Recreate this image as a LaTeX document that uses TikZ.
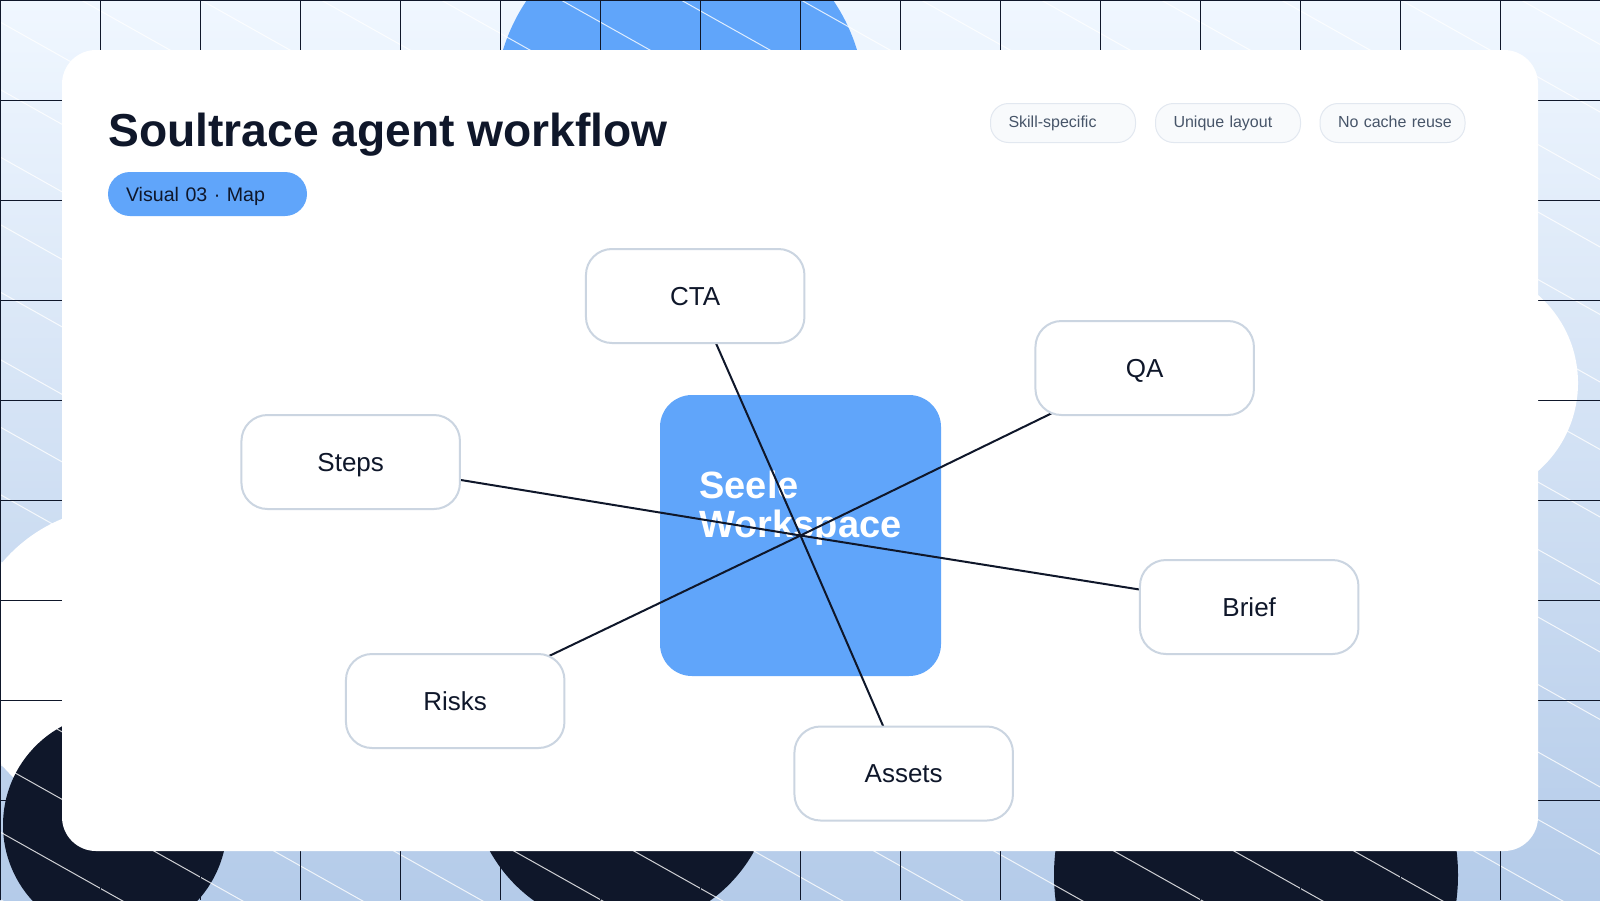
\documentclass[tikz,border=0pt]{standalone}
\usepackage{fontspec}
\setmainfont{Liberation Sans}
\usetikzlibrary{backgrounds}
\definecolor{ink}{HTML}{0F172A}
\definecolor{azure}{HTML}{60A5FA}
\definecolor{bgtop}{HTML}{F0F7FF}
\definecolor{bgbot}{HTML}{B4CBE9}
\definecolor{edgegrey}{HTML}{CBD5E1}
\definecolor{pillfill}{HTML}{F8FAFC}
\definecolor{pilledge}{HTML}{E2E8F0}
\definecolor{pilltext}{HTML}{475569}
\pgfdeclarelayer{backdrop}
\pgfdeclarelayer{links}
\pgfsetlayers{backdrop,links,main}
\tikzset{
  gridline/.style={draw=ink,line width=1pt},
  hatchline/.style={draw=white,draw opacity=.8,line width=1pt},
  stepbox/.style={draw=edgegrey,fill=white,line width=2pt,rounded corners=26pt,
    minimum width=218.5pt,minimum height=94pt,inner sep=0pt,text=ink,
    font=\fontsize{26}{30}\selectfont,text height=20pt,text depth=1.6pt},
  hubbox/.style={fill=azure,rounded corners=32pt,minimum width=281pt,minimum height=281pt,
    inner sep=0pt,inner xsep=39.5pt,text width=202pt,align=left,text=white,
    font=\fontsize{38}{39.3}\selectfont\bfseries,text height=10pt,text depth=84.6pt},
  tagpill/.style={draw=pilledge,fill=pillfill,line width=1pt,rounded corners=18pt,
    minimum height=39pt,inner sep=0pt,inner xsep=18pt,text width=109pt,align=left,text=pilltext,
    font=\fontsize{16}{20}\selectfont,text height=12pt,text depth=3.7pt},
  chippill/.style={fill=azure,rounded corners=22pt,minimum height=44pt,inner sep=0pt,inner xsep=18pt,
    text width=163pt,align=left,text=ink,font=\fontsize{19.6}{24}\selectfont,text height=16pt,text depth=2pt},
  link/.style={draw=ink,line width=2pt},
  headline/.style={anchor=base west,inner sep=0pt,text=ink,font=\fontsize{46.2}{56}\selectfont\bfseries}
}
\begin{document}
\begin{tikzpicture}[x=1pt,y=-1pt]
\useasboundingbox (0,0) rectangle (1600,900);
\begin{pgfonlayer}{backdrop}
  \begin{scope}
    \clip (0,0) rectangle (1600,900);
    \shade[top color=bgtop,bottom color=bgbot] (0,0) rectangle (1600,900);
    \fill[azure] (680,104) circle (185);
    \fill[white] (1461,383) circle (117);
    \fill[white] (122,664) circle (157);
    \fill[ink] (115,825) circle (112);
    \fill[ink] (622,778) circle (151);
    \fill[ink] (1256,875) circle (202);
    \foreach \k in {-14,...,13}
      \draw[hatchline] ({81+120*\k},0) -- ({81+120*\k+1700},{1700*0.5625});
    \foreach \k in {0,...,16}
      \draw[gridline] ({100*\k+0.5},0) -- ({100*\k+0.5},900);
    \foreach \k in {0,...,8}
      \draw[gridline] (0,{100*\k+0.5}) -- (1600,{100*\k+0.5});
  \end{scope}
  \fill[white,rounded corners=34pt] (62,50) rectangle (1538,851);
  \node[hubbox] (hub) at (800.5,535.5) {Seele\\Workspace};
\end{pgfonlayer}
\node[headline] (title) at (108,146.7) {Soultrace agent workflow};
\node[chippill] (chip) at (207.5,194) {Visual 03 · Map};
\node[tagpill] (tagA) at (1063,123) {Skill-specific};
\node[tagpill] (tagB) at (1228,123) {Unique layout};
\node[tagpill] (tagC) at (1392.5,123) {\mbox{No cache reuse}};
\node[stepbox] (cta) at (695.2,296) {CTA};
\node[stepbox] (qa) at (1144.7,368) {QA};
\node[stepbox] (steps) at (350.7,462) {Steps};
\node[stepbox] (brief) at (1249.2,607) {Brief};
\node[stepbox] (risks) at (455.2,701) {Risks};
\node[stepbox] (assets) at (903.7,773.5) {Assets};
\begin{pgfonlayer}{links}
  \foreach \n in {cta,qa,steps,brief,risks,assets}
    \draw[link] (hub.center) -- (\n.center);
\end{pgfonlayer}
\end{tikzpicture}
\end{document}
